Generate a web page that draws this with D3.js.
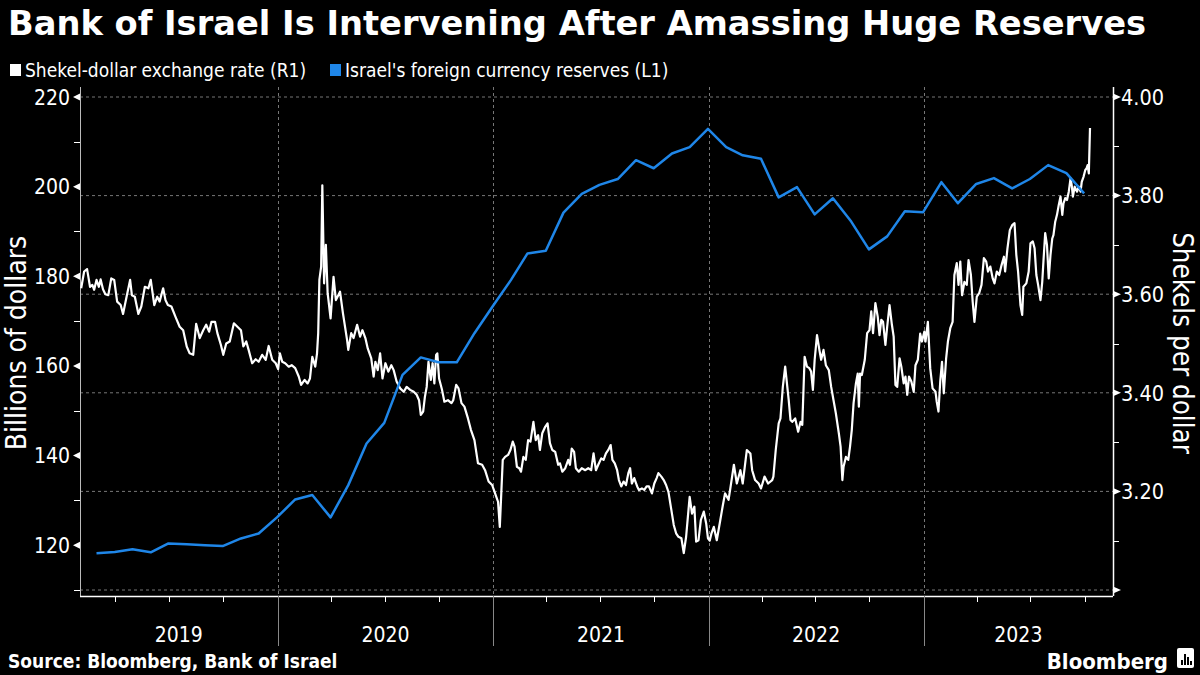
<!DOCTYPE html>
<html><head><meta charset="utf-8">
<script src="https://cdn.jsdelivr.net/npm/d3@7"></script>
<style>html,body{margin:0;padding:0;background:#000}svg{display:block}</style>
</head><body>
<script>
// ---------------- DATA ----------------
const titleText = "Bank of Israel Is Intervening After Amassing Huge Reserves";
const legendLabels = ["Shekel-dollar exchange rate (R1)", "Israel's foreign currency reserves (L1)"];
const leftTicks = [120, 140, 160, 180, 200, 220];
const leftMinor = [110, 130, 150, 170, 190, 210];
const rightTicks = [3.0, 3.2, 3.4, 3.6, 3.8, 4.0];
const rightTickLabels = ["", "3.20", "3.40", "3.60", "3.80", "4.00"];
const rightMinor = [3.1, 3.3, 3.5, 3.7, 3.9];
const yearLabels = ["2019", "2020", "2021", "2022", "2023"];

const reserveDates = ["2019-02-28","2019-03-31","2019-04-30","2019-05-31","2019-06-30","2019-07-31","2019-08-31","2019-09-30","2019-10-31","2019-11-30","2019-12-31",
"2020-01-31","2020-02-29","2020-03-31","2020-04-30","2020-05-31","2020-06-30","2020-07-31","2020-08-31","2020-09-30","2020-10-31","2020-11-30","2020-12-31",
"2021-01-31","2021-02-28","2021-03-31","2021-04-30","2021-05-31","2021-06-30","2021-07-31","2021-08-31","2021-09-30","2021-10-31","2021-11-30","2021-12-31",
"2022-01-31","2022-02-28","2022-03-31","2022-04-30","2022-05-31","2022-06-30","2022-07-31","2022-08-31","2022-09-30","2022-10-31","2022-11-30","2022-12-31",
"2023-01-31","2023-02-28","2023-03-31","2023-04-30","2023-05-31","2023-06-30","2023-07-31","2023-08-31","2023-09-30"];
const reserveValues = [118.2,118.5,119.1,118.4,120.4,120.2,120.0,119.8,121.5,122.6,126.2,
130.2,131.2,126.2,133.4,142.7,147.3,158.0,161.9,160.8,160.8,167.3,173.3,
179.2,185.1,185.7,194.2,198.4,200.4,201.7,205.9,204.1,207.4,208.8,212.9,
208.8,207.0,206.2,197.6,199.9,193.8,197.4,192.2,186.0,188.9,194.5,194.3,
201.0,196.3,200.6,201.9,199.6,201.7,204.8,203.0,198.5];

const fxDates = ["2019-02-02","2019-02-07","2019-02-12","2019-02-17","2019-02-21","2019-02-24","2019-02-28","2019-03-04","2019-03-07","2019-03-11","2019-03-15","2019-03-20","2019-03-25","2019-03-30",
"2019-04-04","2019-04-10","2019-04-14","2019-04-20","2019-04-26","2019-04-29","2019-05-04","2019-05-10","2019-05-15","2019-05-21","2019-05-27","2019-05-31",
"2019-06-06","2019-06-11","2019-06-15","2019-06-21","2019-06-25","2019-06-29","2019-07-05","2019-07-12","2019-07-19","2019-07-25","2019-07-31",
"2019-08-05","2019-08-11","2019-08-16","2019-08-22","2019-08-28","2019-09-02","2019-09-07","2019-09-11","2019-09-17","2019-09-21","2019-09-27",
"2019-10-01","2019-10-06","2019-10-12","2019-10-19","2019-10-25","2019-10-31","2019-11-04","2019-11-09","2019-11-13","2019-11-19","2019-11-25","2019-11-30",
"2019-12-06","2019-12-12","2019-12-17","2019-12-23","2019-12-29","2020-01-02","2020-01-05","2020-01-09","2020-01-14","2020-01-20","2020-01-25","2020-01-31",
"2020-02-06","2020-02-10","2020-02-16","2020-02-21","2020-02-25","2020-02-29","2020-03-05","2020-03-08","2020-03-10","2020-03-12","2020-03-15","2020-03-17",
"2020-03-20","2020-03-23","2020-03-26","2020-03-31","2020-04-05","2020-04-09","2020-04-16","2020-04-21","2020-04-28","2020-04-30",
"2020-05-05","2020-05-09","2020-05-15","2020-05-20","2020-05-24","2020-05-29","2020-06-02","2020-06-08","2020-06-12","2020-06-15","2020-06-19","2020-06-23","2020-06-27",
"2020-07-02","2020-07-07","2020-07-12","2020-07-16","2020-07-21","2020-07-27","2020-08-02","2020-08-07","2020-08-13","2020-08-19","2020-08-24","2020-08-28","2020-08-31",
"2020-09-04","2020-09-07","2020-09-10","2020-09-13","2020-09-17","2020-09-20","2020-09-23","2020-09-26","2020-09-28","2020-10-01","2020-10-06","2020-10-10","2020-10-16",
"2020-10-22","2020-10-25","2020-10-30","2020-11-03","2020-11-08","2020-11-13","2020-11-19","2020-11-24","2020-11-30","2020-12-06","2020-12-13","2020-12-18","2020-12-24","2020-12-30",
"2021-01-04","2021-01-09","2021-01-12","2021-01-17","2021-01-21","2021-01-26","2021-01-30","2021-02-03","2021-02-06","2021-02-10","2021-02-14","2021-02-17","2021-02-21","2021-02-25",
"2021-03-01","2021-03-05","2021-03-10","2021-03-14","2021-03-18","2021-03-21","2021-03-25","2021-03-30","2021-04-03","2021-04-07","2021-04-11","2021-04-16","2021-04-21","2021-04-24","2021-04-28",
"2021-05-03","2021-05-08","2021-05-11","2021-05-14","2021-05-18","2021-05-21","2021-05-26","2021-05-31","2021-06-06","2021-06-11","2021-06-16","2021-06-20","2021-06-24","2021-06-28",
"2021-07-03","2021-07-07","2021-07-11","2021-07-15","2021-07-19","2021-07-22","2021-07-26","2021-07-30","2021-08-02","2021-08-06","2021-08-10","2021-08-14","2021-08-18","2021-08-21","2021-08-24","2021-08-28",
"2021-09-02","2021-09-05","2021-09-10","2021-09-14","2021-09-18","2021-09-22","2021-09-27","2021-10-01","2021-10-05","2021-10-08","2021-10-13","2021-10-17","2021-10-21","2021-10-25","2021-10-30",
"2021-11-03","2021-11-07","2021-11-11","2021-11-16","2021-11-20","2021-11-24","2021-11-27","2021-11-30","2021-12-04","2021-12-08","2021-12-11","2021-12-15","2021-12-19","2021-12-24","2021-12-28","2021-12-31",
"2022-01-03","2022-01-06","2022-01-10","2022-01-15","2022-01-21","2022-01-25","2022-01-29","2022-02-04","2022-02-07","2022-02-13","2022-02-18","2022-02-24","2022-02-28",
"2022-03-07","2022-03-13","2022-03-16","2022-03-21","2022-03-27","2022-03-31","2022-04-06","2022-04-12","2022-04-19","2022-04-21","2022-04-25","2022-04-30",
"2022-05-03","2022-05-07","2022-05-11","2022-05-14","2022-05-17","2022-05-20","2022-05-23","2022-05-28","2022-06-02","2022-06-06","2022-06-09","2022-06-13","2022-06-17","2022-06-21","2022-06-24","2022-06-27","2022-06-30",
"2022-07-04","2022-07-08","2022-07-11","2022-07-15","2022-07-19","2022-07-24","2022-07-28","2022-08-01","2022-08-05","2022-08-10","2022-08-13","2022-08-16","2022-08-18","2022-08-22","2022-08-26","2022-08-29",
"2022-09-01","2022-09-04","2022-09-08","2022-09-11","2022-09-13","2022-09-15","2022-09-18","2022-09-23","2022-09-27","2022-10-01","2022-10-04","2022-10-07","2022-10-11","2022-10-15","2022-10-18","2022-10-21","2022-10-24","2022-10-28","2022-10-31",
"2022-11-04","2022-11-08","2022-11-11","2022-11-14","2022-11-17","2022-11-21","2022-11-24","2022-11-28","2022-12-01","2022-12-04","2022-12-07","2022-12-11","2022-12-15","2022-12-18","2022-12-22","2022-12-26","2022-12-29",
"2023-01-02","2023-01-04","2023-01-08","2023-01-12","2023-01-16","2023-01-21","2023-01-23","2023-01-26","2023-01-29","2023-02-01","2023-02-04","2023-02-08","2023-02-11","2023-02-15","2023-02-19","2023-02-22","2023-02-26",
"2023-03-01","2023-03-04","2023-03-07","2023-03-11","2023-03-15","2023-03-18","2023-03-22","2023-03-25","2023-03-28","2023-04-01","2023-04-05","2023-04-09","2023-04-13","2023-04-17","2023-04-20","2023-04-24","2023-04-28",
"2023-05-01","2023-05-05","2023-05-09","2023-05-13","2023-05-17","2023-05-19","2023-05-23","2023-05-27","2023-05-31","2023-06-04","2023-06-07","2023-06-10","2023-06-14","2023-06-17","2023-06-19","2023-06-24","2023-06-28",
"2023-07-01","2023-07-05","2023-07-08","2023-07-11","2023-07-14","2023-07-18","2023-07-21","2023-07-23","2023-07-26","2023-07-29","2023-08-01","2023-08-04","2023-08-07","2023-08-09","2023-08-12","2023-08-15","2023-08-18","2023-08-21","2023-08-24","2023-08-26","2023-08-29",
"2023-09-01","2023-09-04","2023-09-07","2023-09-09","2023-09-11","2023-09-14","2023-09-18","2023-09-21","2023-09-24","2023-09-26","2023-09-29","2023-10-02","2023-10-04","2023-10-06","2023-10-08","2023-10-10"];
const fxRates = [3.612,3.646,3.651,3.615,3.619,3.609,3.629,3.615,3.630,3.610,3.600,3.598,3.632,3.629,
3.585,3.578,3.560,3.595,3.629,3.598,3.595,3.560,3.575,3.615,3.612,3.629,
3.578,3.595,3.585,3.612,3.588,3.578,3.575,3.554,3.534,3.527,3.494,
3.480,3.477,3.540,3.511,3.527,3.538,3.524,3.544,3.544,3.521,3.497,
3.477,3.500,3.504,3.541,3.534,3.527,3.494,3.504,3.487,3.460,3.468,3.463,
3.477,3.467,3.495,3.467,3.460,3.448,3.480,3.463,3.460,3.453,3.456,3.450,
3.433,3.416,3.426,3.419,3.429,3.473,3.453,3.480,3.521,3.629,3.656,3.821,
3.622,3.700,3.602,3.551,3.635,3.588,3.605,3.561,3.507,3.487,
3.521,3.511,3.538,3.514,3.527,3.511,3.490,3.470,3.433,3.463,3.446,3.480,3.429,
3.460,3.443,3.456,3.446,3.423,3.409,3.402,3.412,3.406,3.402,3.396,3.385,3.355,
3.362,3.392,3.412,3.463,3.426,3.460,3.419,3.477,3.480,3.429,3.406,3.382,3.385,
3.379,3.385,3.416,3.409,3.379,3.372,3.348,3.325,3.304,3.257,3.254,3.243,3.220,3.213,
3.196,3.179,3.128,3.264,3.270,3.274,3.284,3.301,3.291,3.250,3.247,3.240,3.270,3.264,
3.304,3.301,3.341,3.304,3.314,3.284,3.318,3.331,3.338,3.298,3.284,3.280,3.254,3.257,3.240,
3.247,3.264,3.254,3.287,3.280,3.247,3.240,3.247,3.243,3.247,3.243,3.277,3.243,3.254,
3.267,3.264,3.277,3.284,3.294,3.264,3.257,3.243,3.223,3.210,3.220,3.213,3.237,3.247,3.216,3.227,
3.210,3.203,3.206,3.203,3.210,3.210,3.196,3.216,3.227,3.237,3.230,3.223,3.213,3.199,3.162,
3.132,3.115,3.108,3.105,3.075,3.108,3.149,3.189,3.155,3.169,3.098,3.101,3.142,3.159,3.135,3.105,
3.100,3.115,3.128,3.101,3.142,3.170,3.196,3.183,3.206,3.254,3.216,3.243,3.216,
3.284,3.277,3.243,3.223,3.216,3.206,3.230,3.216,3.223,3.230,3.284,3.338,
3.348,3.412,3.453,3.419,3.385,3.345,3.341,3.348,3.321,3.341,3.335,3.473,3.453,3.450,3.443,3.406,3.467,
3.517,3.487,3.467,3.487,3.456,3.446,3.412,3.385,3.358,3.318,3.291,3.223,3.250,3.270,3.264,3.291,
3.325,3.379,3.419,3.439,3.372,3.439,3.436,3.467,3.521,3.527,3.565,3.521,3.582,3.554,3.517,3.548,3.544,3.497,3.534,
3.578,3.538,3.514,3.416,3.412,3.470,3.453,3.419,3.433,3.396,3.433,3.423,3.402,3.456,3.467,3.520,3.504,
3.524,3.504,3.544,3.450,3.409,3.402,3.382,3.362,3.423,3.463,3.399,3.470,3.504,3.531,3.544,3.639,3.663,
3.619,3.666,3.598,3.625,3.619,3.669,3.639,3.585,3.544,3.595,3.602,3.619,3.673,3.666,3.646,3.656,3.632,
3.622,3.646,3.639,3.659,3.676,3.646,3.693,3.730,3.740,3.744,3.680,3.646,3.578,3.558,3.615,3.622,3.646,
3.703,3.707,3.693,3.639,3.619,3.588,3.625,3.666,3.724,3.700,3.632,3.680,3.713,3.720,3.747,3.761,3.781,3.798,3.761,3.784,3.795,
3.791,3.808,3.835,3.821,3.798,3.818,3.808,3.818,3.808,3.828,3.838,3.852,3.855,3.862,3.845,3.937];

// ---------------- LAYOUT ----------------
const W = 1200, H = 675;
const X0 = 80, X1 = 1113, YT = 97, YB = 590, AXT = 87, AXB = 596;
const COND = "'DejaVu Sans Condensed','DejaVu Sans',sans-serif";
const BLUE = "#1f86e8";

const parse = d3.timeParse("%Y-%m-%d");
const x = d3.scaleTime().domain([parse("2019-01-31"), parse("2023-11-18")]).range([X0, X1]);
const yL = d3.scaleLinear().domain([110, 220]).range([YB, YT]);
const yR = d3.scaleLinear().domain([3.0, 4.0]).range([YB, YT]);

const svg = d3.select("body").append("svg").attr("width", W).attr("height", H)
  .style("background", "#000");

// Title
svg.append("text").attr("x", 8).attr("y", 35).text(titleText)
  .attr("fill", "#fff").style("font-family", "'DejaVu Sans',sans-serif")
  .style("font-weight", "bold").style("font-size", "33.7px");

// Legend
const lg = svg.append("g").style("font-family", COND).style("font-stretch", "condensed").style("font-size", "19px");
lg.append("rect").attr("x", 10).attr("y", 64).attr("width", 11).attr("height", 12).attr("fill", "#fff");
lg.append("text").attr("x", 25).attr("y", 70).attr("dy", "0.36em").attr("fill", "#fff").text(legendLabels[0]);
lg.append("rect").attr("x", 330).attr("y", 64).attr("width", 11).attr("height", 12).attr("fill", BLUE);
lg.append("text").attr("x", 345).attr("y", 70).attr("dy", "0.36em").attr("fill", "#fff").text(legendLabels[1]);

// Gridlines (horizontal from right axis)
svg.append("g").selectAll("line").data(rightTicks).join("line")
  .attr("x1", X0).attr("x2", X1).attr("y1", d => yR(d)).attr("y2", d => yR(d))
  .attr("stroke", "#777").attr("stroke-width", 1).attr("stroke-dasharray", "3,3");

// Vertical year gridlines
const yearStarts = d3.timeYear.range(parse("2019-02-01"), parse("2023-11-18"));
svg.append("g").selectAll("line").data(yearStarts).join("line")
  .attr("x1", d => Math.round(x(d)) + 0.5).attr("x2", d => Math.round(x(d)) + 0.5)
  .attr("y1", AXT).attr("y2", AXB)
  .attr("stroke", "#777").attr("stroke-width", 1).attr("stroke-dasharray", "3,3");

// Left axis
const la = svg.append("g");
la.append("line").attr("x1", X0 + 0.5).attr("x2", X0 + 0.5).attr("y1", AXT).attr("y2", AXB)
  .attr("stroke", "#bbb").attr("stroke-width", 1);
la.selectAll("path.maj").data(leftTicks).join("path").attr("class", "maj")
  .attr("d", d => `M${X0},${yL(d) - 3.5}L${X0 - 7},${yL(d)}L${X0},${yL(d) + 3.5}Z`).attr("fill", "#fff");
la.selectAll("line.min").data(leftMinor).join("line").attr("class", "min")
  .attr("x1", X0 - 6).attr("x2", X0).attr("y1", d => Math.round(yL(d)) + 0.5).attr("y2", d => Math.round(yL(d)) + 0.5)
  .attr("stroke", "#fff").attr("stroke-width", 1);
la.selectAll("text").data(leftTicks).join("text")
  .attr("x", 70).attr("y", d => yL(d)).attr("dy", "0.36em").attr("text-anchor", "end")
  .attr("fill", "#fff").style("font-family", COND).style("font-stretch", "condensed").style("font-size", "21px")
  .text(d => d3.format("d")(d));

// Right axis
const ra = svg.append("g");
ra.append("line").attr("x1", X1 + 0.5).attr("x2", X1 + 0.5).attr("y1", AXT).attr("y2", AXB)
  .attr("stroke", "#fff").attr("stroke-width", 1.5);
ra.selectAll("path.maj").data(rightTicks).join("path").attr("class", "maj")
  .attr("d", d => `M${X1},${yR(d) - 3.5}L${X1 + 8},${yR(d)}L${X1},${yR(d) + 3.5}Z`).attr("fill", "#fff");
ra.selectAll("line.min").data(rightMinor).join("line").attr("class", "min")
  .attr("x1", X1).attr("x2", X1 + 6).attr("y1", d => Math.round(yR(d)) + 0.5).attr("y2", d => Math.round(yR(d)) + 0.5)
  .attr("stroke", "#fff").attr("stroke-width", 1);
ra.selectAll("text").data(rightTicks.map((v, i) => [v, rightTickLabels[i]])).join("text")
  .attr("x", 1121).attr("y", d => yR(d[0])).attr("dy", "0.36em")
  .attr("fill", "#fff").style("font-family", COND).style("font-stretch", "condensed").style("font-size", "21.5px")
  .text(d => d[1]);

// Axis titles
svg.append("text").attr("transform", `translate(16,343) rotate(-90)`).attr("text-anchor", "middle")
  .attr("dy", "0.36em").attr("fill", "#fff").style("font-family", COND).style("font-stretch", "condensed")
  .style("font-size", "28px").text("Billions of dollars");
svg.append("text").attr("transform", `translate(1183,343) rotate(90)`).attr("text-anchor", "middle")
  .attr("dy", "0.36em").attr("fill", "#fff").style("font-family", COND).style("font-stretch", "condensed")
  .style("font-size", "27.5px").text("Shekels per dollar");

// Bottom axis
const ba = svg.append("g");
ba.append("line").attr("x1", X0).attr("x2", X1).attr("y1", AXB + 0.5).attr("y2", AXB + 0.5)
  .attr("stroke", "#fff").attr("stroke-width", 1.5);
const quarters = d3.timeMonth.every(3).range(parse("2019-02-01"), parse("2023-11-18"))
  .filter(d => d.getMonth() !== 0);
ba.selectAll("line.q").data(quarters).join("line").attr("class", "q")
  .attr("x1", d => Math.round(x(d)) + 0.5).attr("x2", d => Math.round(x(d)) + 0.5)
  .attr("y1", AXB).attr("y2", AXB + 6).attr("stroke", "#fff").attr("stroke-width", 1);
ba.selectAll("line.y").data(yearStarts).join("line").attr("class", "y")
  .attr("x1", d => Math.round(x(d)) + 0.5).attr("x2", d => Math.round(x(d)) + 0.5)
  .attr("y1", AXB).attr("y2", 646).attr("stroke", "#888").attr("stroke-width", 1);
const yearBounds = yearLabels.map(yl => {
  const a = d3.max([parse(yl + "-01-01"), x.domain()[0]]);
  const b = d3.min([parse((+yl + 1) + "-01-01"), x.domain()[1]]);
  return [yl, (x(a) + x(b)) / 2];
});
ba.selectAll("text").data(yearBounds).join("text")
  .attr("x", d => d[1]).attr("y", 634).attr("dy", "0.36em").attr("text-anchor", "middle")
  .attr("fill", "#fff").style("font-family", COND).style("font-stretch", "condensed").style("font-size", "21px")
  .text(d => d[0]);

// Lines
const fxData = fxDates.map((d, i) => ({ date: parse(d), v: fxRates[i] }));
const resData = reserveDates.map((d, i) => ({ date: parse(d), v: reserveValues[i] }));
svg.append("path").datum(fxData)
  .attr("d", d3.line().x(d => x(d.date)).y(d => yR(d.v)))
  .attr("fill", "none").attr("stroke", "#fff").attr("stroke-width", 2.2).attr("stroke-linejoin", "round");
svg.append("path").datum(resData)
  .attr("d", d3.line().x(d => x(d.date)).y(d => yL(d.v)))
  .attr("fill", "none").attr("stroke", BLUE).attr("stroke-width", 2.5).attr("stroke-linejoin", "round");

// Footer
svg.append("text").attr("x", 8).attr("y", 668).attr("fill", "#fff")
  .style("font-family", COND).style("font-stretch", "condensed").style("font-weight", "bold").style("font-size", "19px")
  .text("Source: Bloomberg, Bank of Israel");
svg.append("text").attr("x", 1168).attr("y", 669).attr("text-anchor", "end").attr("fill", "#fff")
  .style("font-family", COND).style("font-stretch", "condensed").style("font-weight", "bold").style("font-size", "22px")
  .text("Bloomberg");
const ic = svg.append("g");
ic.append("rect").attr("x", 1177).attr("y", 648).attr("width", 17).attr("height", 20).attr("rx", 2).attr("fill", "#fff");
[[1181, 660, 5], [1184, 654, 11], [1187, 657, 8], [1190, 661, 4]].forEach(b => {
  ic.append("rect").attr("x", b[0]).attr("y", b[1]).attr("width", 2).attr("height", b[2]).attr("fill", "#000");
});
</script>
</body></html>
